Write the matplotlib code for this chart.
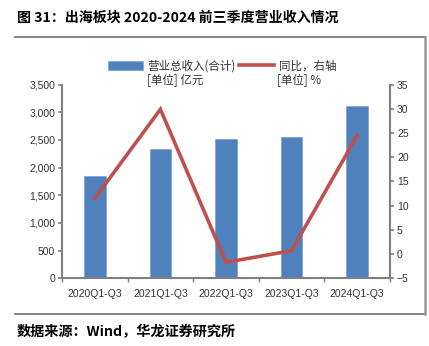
import matplotlib.pyplot as plt
from matplotlib.lines import Line2D
from matplotlib.patches import Patch

# data
periods = ["2020Q1-Q3", "2021Q1-Q3", "2022Q1-Q3", "2023Q1-Q3", "2024Q1-Q3"]
revenue = [1852, 2339, 2514, 2556, 3110]      # 亿元
yoy = [11.5, 29.9, -1.7, 0.7, 24.5]           # %

cjk = ["Noto Sans CJK SC", "DejaVu Sans"]
num = ["Liberation Sans", "DejaVu Sans"]
bar_color = "#4F81BD"
line_color = "#C0504D"
axis_color = "#7f7f7f"
W, H = 429, 346

fig = plt.figure(figsize=(W / 100, H / 100), dpi=100)
ax = fig.add_axes([62 / W, 1 - 278.3 / H, (390 - 62) / W, (278.3 - 84.6) / H])
ax2 = ax.twinx()

x = list(range(len(periods)))
ax.bar(x, revenue, width=0.33, color=bar_color, edgecolor="#7ea6d8",
       linewidth=0.6, zorder=2)
ax2.plot(x, yoy, color=line_color, linewidth=2.6, solid_joinstyle="miter",
         zorder=3)

ax.set_xlim(-0.5, 4.5)
ax.set_ylim(0, 3500)
ax.set_yticks(range(0, 3501, 500))
ax.set_yticklabels([f"{v:,}" for v in range(0, 3501, 500)])
ax2.set_ylim(-5, 35)
ax2.set_yticks(range(-5, 36, 5))

ax.set_xticks(x)
ax.set_xticklabels(periods)
ax.set_xticks([i + 0.5 for i in range(-1, 5)], minor=True)
ax.tick_params(axis="x", which="major", length=0, pad=8)
ax.tick_params(axis="x", which="minor", length=3, color=axis_color, width=1)

for a in (ax, ax2):
    for s in a.spines.values():
        s.set_visible(False)
    a.tick_params(axis="y", length=3, color=axis_color, width=1.2,
                  labelsize=7.5, labelcolor="#222222", pad=2)
ax.spines["left"].set_visible(True)
ax.spines["bottom"].set_visible(True)
ax2.spines["right"].set_visible(True)
for a, side in ((ax, "left"), (ax, "bottom"), (ax2, "right")):
    a.spines[side].set_color(axis_color)
    a.spines[side].set_linewidth(1.5)
ax2.spines["right"].set_zorder(1)

for lbl in ax.get_xticklabels() + ax.get_yticklabels() + ax2.get_yticklabels():
    lbl.set_family(num)
    lbl.set_fontsize(7.5)
    lbl.set_color("#333333")

ax.set_zorder(1)
ax2.set_zorder(2)
ax2.patch.set_visible(False)

# legend
handles = [Patch(facecolor=bar_color, edgecolor="#7ea6d8", linewidth=0.6),
           Line2D([], [], color=line_color, linewidth=2.6)]
labels = ["营业总收入(合计)", "同比，右轴"]
fig.legend(handles, labels, loc="center left",
           bbox_to_anchor=(108 / W, 1 - 66 / H), ncol=2, frameon=False,
           prop={"family": cjk, "size": 8.3}, handlelength=3.0,
           handleheight=0.85, handletextpad=0.4, columnspacing=0.35,
           borderaxespad=0, borderpad=0, labelcolor="#333333")
fig.text(147 / W, 1 - 80 / H, "[单位] 亿元", family=cjk, fontsize=8.3,
         color="#333333", va="center")
fig.text(277 / W, 1 - 80 / H, "[单位] %", family=cjk, fontsize=8.3,
         color="#333333", va="center")

# title, source and frame
fig.text(17 / W, 1 - 18 / H, "图 31：出海板块 2020-2024 前三季度营业收入情况",
         family=cjk, fontsize=10.1, fontweight="bold", va="center")
fig.text(17 / W, 1 - 332 / H, "数据来源：Wind，华龙证券研究所",
         family=cjk, fontsize=10.2, fontweight="bold", va="center")
frame = dict(color="#6f6f6f", linewidth=1.2, transform=fig.transFigure)
fig.add_artist(Line2D([15 / W, 425 / W], [1 - 37 / H, 1 - 37 / H], **frame))
fig.add_artist(Line2D([15 / W, 425 / W], [1 - 314 / H, 1 - 314 / H], **frame))
fig.add_artist(Line2D([425 / W, 425 / W], [1 - 37 / H, 1 - 314 / H],
                      color="#999999", linewidth=1.8,
                      transform=fig.transFigure))

fig.savefig("out.png", dpi=100)
plt.close(fig)
